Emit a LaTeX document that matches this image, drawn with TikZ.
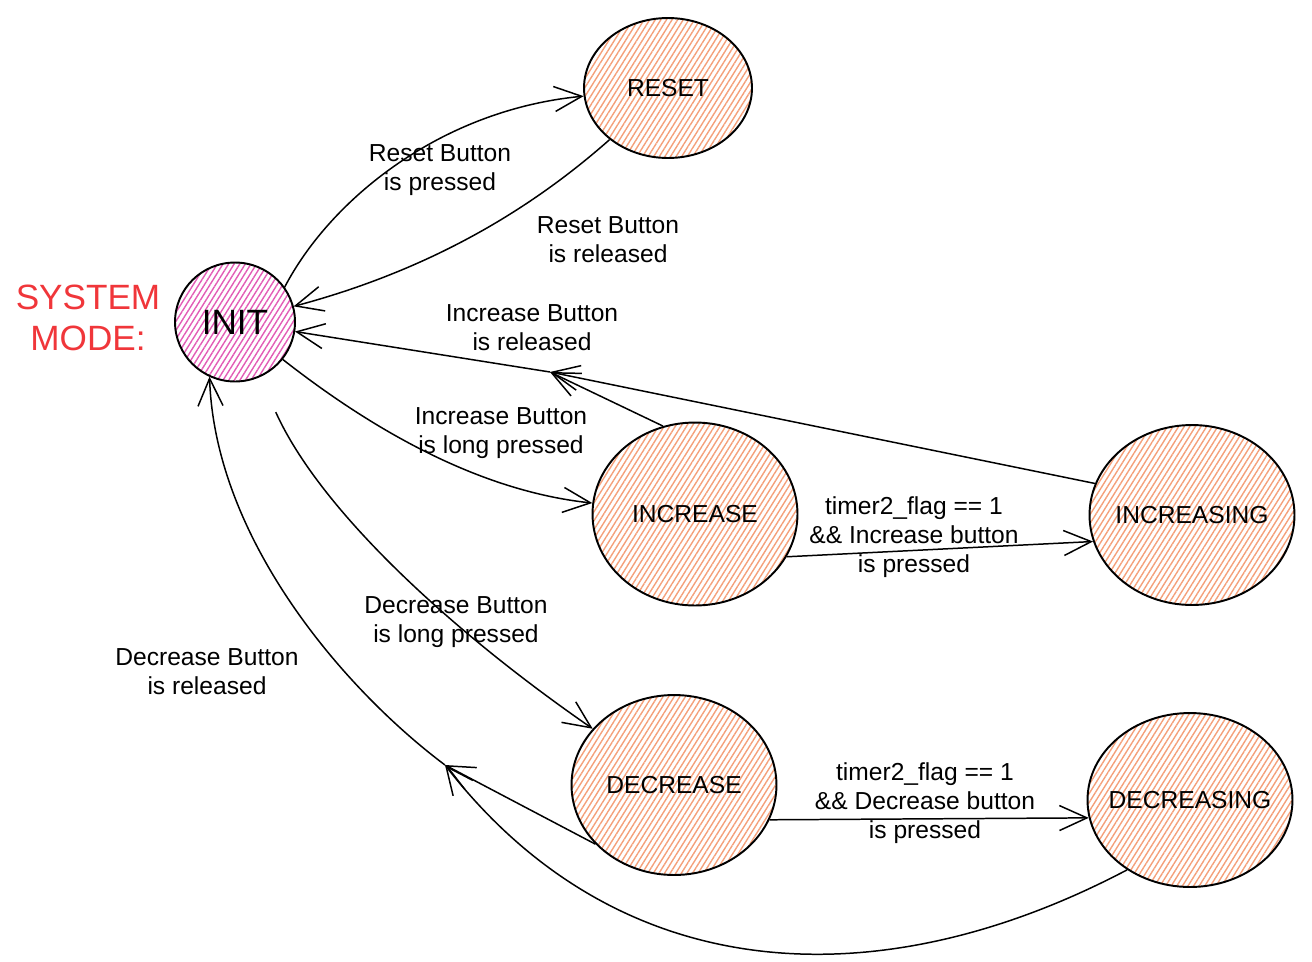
\documentclass[tikz,border=0pt]{standalone}
\usepackage{fontspec}
\setmainfont{Liberation Sans}
\usetikzlibrary{arrows.meta, shapes.geometric, patterns.meta, positioning}
\definecolor{hatchorange}{HTML}{F4A07A}
\definecolor{hatchpink}{HTML}{E25CB6}
\definecolor{modered}{HTML}{F0363A}
\tikzset{
  state/.style={ellipse, draw, line width=1.1pt, inner sep=0pt, minimum width=4.1cm, minimum height=3.6cm,
    pattern={Lines[angle=58,distance=2.7pt,line width=0.8pt]}, pattern color=hatchorange, font=\fontsize{14}{17}\selectfont},
  cond/.style={align=center, font=\fontsize{14}{16.5}\selectfont},
  trans/.style={->, line width=0.85pt},
}
\begin{document}
\begin{tikzpicture}[x=0.02cm, y=0.02cm, >={Straight Barb[length=5.5mm,width=5mm]}]
		\useasboundingbox (0,0) rectangle (1312,-961);
		% states
		\node[state, minimum width=2.4cm, minimum height=2.38cm, pattern color=hatchpink, font=\fontsize{20}{24}\selectfont] (init) at (235,-322) {INIT};
		\node[state, minimum width=3.36cm, minimum height=2.8cm] (reset) at (668,-88) {\makebox[0pt]{RESET}};
		\node[state, minimum height=3.66cm] (inc) at (695,-514) {\makebox[0pt]{INCREASE}};
		\node[state] (incing) at (1192,-515) {\makebox[0pt]{INCREASING}};
		\node[state] (dec) at (674,-785) {\makebox[0pt]{DECREASE}};
		\node[state, minimum height=3.48cm] (decing) at (1190,-800) {\makebox[0pt]{DECREASING}};
		\node[align=center, text=modered, font=\fontsize{20}{23}\selectfont] (mode) at (88,-318) {SYSTEM\\MODE:};
		\coordinate (incjoin) at (550,-372);
		\coordinate (decjoin) at (445,-765);

		% reset
		\draw[trans] (init.35) .. controls (330,-200) and (440,-110) .. (reset);
		\draw[trans] (reset) .. controls (530,-210) and (430,-270) .. (init);
		\node[cond] (lrp) at (440,-170) {Reset Button\\is pressed};
		\node[cond] (lrr) at (608,-240) {Reset Button\\is released};

		% increase
		\draw[trans] (init) .. controls (360,-420) and (470,-490) .. (inc);
		\draw[trans] (inc.110) -- (incjoin); \draw[trans] (incing.162) -- (incjoin); \draw[trans] (incjoin) -- (init);
		\draw[trans] (inc.-25) -- (incing.195);
		\node[cond] (lir) at (532,-328) {Increase Button\\is released};
		\node[cond] (lil) at (501,-433) {Increase Button\\is long pressed};
		\node[cond] (lit) at (914,-537) {timer2\_flag == 1\\\&\& Increase button\\is pressed};

		% decrease
		\draw[trans, shorten <=22pt] (init) .. controls (320,-510) and (450,-630) .. (dec);
		\draw[trans] (dec.217) -- (decjoin);
		\draw[trans] (decing.228) .. controls (880,-1000) and (620,-990) .. (decjoin);
		\draw[trans] (decjoin) .. controls (345,-690) and (215,-540) .. (init.245);
		\draw[trans] (dec.-20) -- (decing.190);
		\node[cond] (ldl) at (456,-622) {Decrease Button\\is long pressed};
		\node[cond] (ldr) at (207,-672) {Decrease Button\\is released};
		\node[cond] (ldt) at (925,-803) {timer2\_flag == 1\\\&\& Decrease button\\is pressed};
\end{tikzpicture}
\end{document}
